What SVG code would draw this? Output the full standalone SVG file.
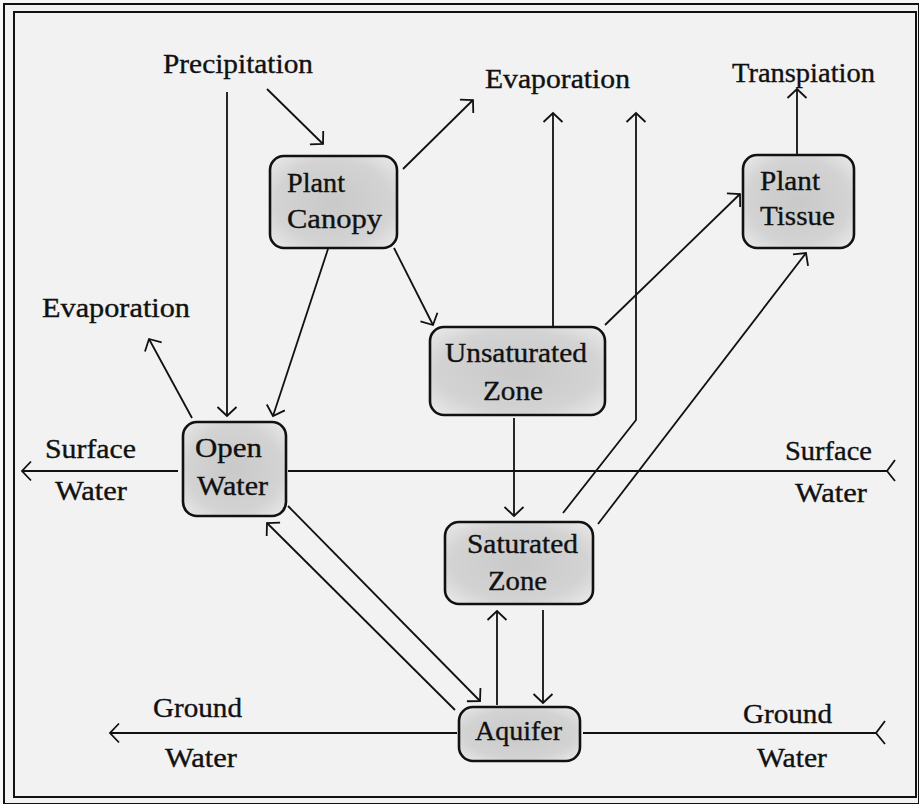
<svg xmlns="http://www.w3.org/2000/svg" width="919" height="804" viewBox="0 0 919 804">
<defs>
<style>
.lbl{font-family:"Liberation Serif","DejaVu Serif",serif;font-size:27px;fill:#111;stroke:#111;stroke-width:0.35}
.node rect{stroke:#111;stroke-width:2.6;fill:url(#nf)}
.conn line,.conn polyline{stroke:#111;stroke-width:1.8;fill:none}
.arr{marker-end:url(#ah)}
.tail{stroke:#111;stroke-width:1.8;fill:none}
</style>
<radialGradient id="nf" cx="50%" cy="50%" r="65%">
<stop offset="0" stop-color="#c9c9c9"/>
<stop offset="0.7" stop-color="#d3d3d3"/>
<stop offset="1" stop-color="#e6e6e6"/>
</radialGradient>
<marker id="ah" markerUnits="userSpaceOnUse" viewBox="-12 -12 14 24" refX="0" refY="0" markerWidth="14" markerHeight="24" orient="auto">
<path d="M-9,-9.5 L0,0 L-9,9.5" fill="none" stroke="#111" stroke-width="1.8"/>
</marker>
</defs>
<rect x="0" y="0" width="919" height="804" fill="#f7f7f7"/>
<rect x="4" y="4" width="915" height="800" fill="#f2f2f2" stroke="#111" stroke-width="2"/>
<rect x="14" y="12" width="902" height="785" fill="none" stroke="#111" stroke-width="2"/>

<g id="connectors" class="conn">
<line class="arr" x1="267" y1="89" x2="323" y2="144"/>
<line class="arr" x1="227" y1="92" x2="227" y2="416"/>
<line class="arr" x1="403" y1="169" x2="473" y2="100"/>
<line class="arr" x1="328" y1="249" x2="273" y2="416"/>
<line class="arr" x1="394" y1="248" x2="433" y2="325"/>
<line class="arr" x1="192" y1="418" x2="149" y2="339"/>
<line class="arr" x1="178" y1="471" x2="22" y2="471"/>
<line x1="288" y1="471" x2="887" y2="471"/>
<polyline class="tail" points="895,460 887,471 895,481"/>
<line class="arr" x1="553" y1="326" x2="553" y2="113"/>
<polyline class="arr" points="563,513 636,420 636,113"/>
<line class="arr" x1="605" y1="325" x2="740" y2="194"/>
<line class="arr" x1="598" y1="524" x2="806" y2="253"/>
<line class="arr" x1="797" y1="154" x2="797" y2="89"/>
<line class="arr" x1="514" y1="418" x2="514" y2="516"/>
<line class="arr" x1="288" y1="506" x2="480" y2="701"/>
<line class="arr" x1="455" y1="710" x2="267" y2="523"/>
<line class="arr" x1="497" y1="705" x2="497" y2="611"/>
<line class="arr" x1="543" y1="610" x2="543" y2="703"/>
<line class="arr" x1="457" y1="733" x2="110" y2="733"/>
<line x1="583" y1="733" x2="876" y2="733"/>
<polyline class="tail" points="885,721 876,733 885,744"/>
</g>

<g id="plant-canopy" class="node">
<rect x="270" y="156" width="127" height="92" rx="14"/>
<text class="lbl" x="287" y="192" textLength="58" lengthAdjust="spacingAndGlyphs">Plant</text>
<text class="lbl" x="287" y="228" textLength="95" lengthAdjust="spacingAndGlyphs">Canopy</text>
</g>
<g id="plant-tissue" class="node">
<rect x="743" y="155" width="111" height="93" rx="14"/>
<text class="lbl" x="760" y="190" textLength="60" lengthAdjust="spacingAndGlyphs">Plant</text>
<text class="lbl" x="760" y="225" textLength="75" lengthAdjust="spacingAndGlyphs">Tissue</text>
</g>
<g id="unsaturated-zone" class="node">
<rect x="430" y="327" width="175" height="88" rx="14"/>
<text class="lbl" x="445" y="362" textLength="142" lengthAdjust="spacingAndGlyphs">Unsaturated</text>
<text class="lbl" x="483" y="400" textLength="60" lengthAdjust="spacingAndGlyphs">Zone</text>
</g>
<g id="open-water" class="node">
<rect x="183" y="422" width="103" height="94" rx="14"/>
<text class="lbl" x="195" y="457" textLength="67" lengthAdjust="spacingAndGlyphs">Open</text>
<text class="lbl" x="197" y="495" textLength="71" lengthAdjust="spacingAndGlyphs">Water</text>
</g>
<g id="saturated-zone" class="node">
<rect x="445" y="522" width="148" height="82" rx="14"/>
<text class="lbl" x="467" y="553" textLength="111" lengthAdjust="spacingAndGlyphs">Saturated</text>
<text class="lbl" x="488" y="590" textLength="59" lengthAdjust="spacingAndGlyphs">Zone</text>
</g>
<g id="aquifer" class="node">
<rect x="459" y="707" width="121" height="54" rx="14"/>
<text class="lbl" x="475" y="740" textLength="87" lengthAdjust="spacingAndGlyphs">Aquifer</text>
</g>

<g id="labels">
<text class="lbl" x="163" y="73" textLength="150" lengthAdjust="spacingAndGlyphs">Precipitation</text>
<text class="lbl" x="485" y="88" textLength="145" lengthAdjust="spacingAndGlyphs">Evaporation</text>
<text class="lbl" x="732" y="82" textLength="143" lengthAdjust="spacingAndGlyphs">Transpiation</text>
<text class="lbl" x="42" y="317" textLength="148" lengthAdjust="spacingAndGlyphs">Evaporation</text>
<text class="lbl" x="45" y="458" textLength="91" lengthAdjust="spacingAndGlyphs">Surface</text>
<text class="lbl" x="55" y="500" textLength="72" lengthAdjust="spacingAndGlyphs">Water</text>
<text class="lbl" x="785" y="460" textLength="87" lengthAdjust="spacingAndGlyphs">Surface</text>
<text class="lbl" x="795" y="502" textLength="72" lengthAdjust="spacingAndGlyphs">Water</text>
<text class="lbl" x="153" y="717" textLength="89" lengthAdjust="spacingAndGlyphs">Ground</text>
<text class="lbl" x="165" y="767" textLength="72" lengthAdjust="spacingAndGlyphs">Water</text>
<text class="lbl" x="743" y="723" textLength="89" lengthAdjust="spacingAndGlyphs">Ground</text>
<text class="lbl" x="757" y="767" textLength="70" lengthAdjust="spacingAndGlyphs">Water</text>
</g>
</svg>
